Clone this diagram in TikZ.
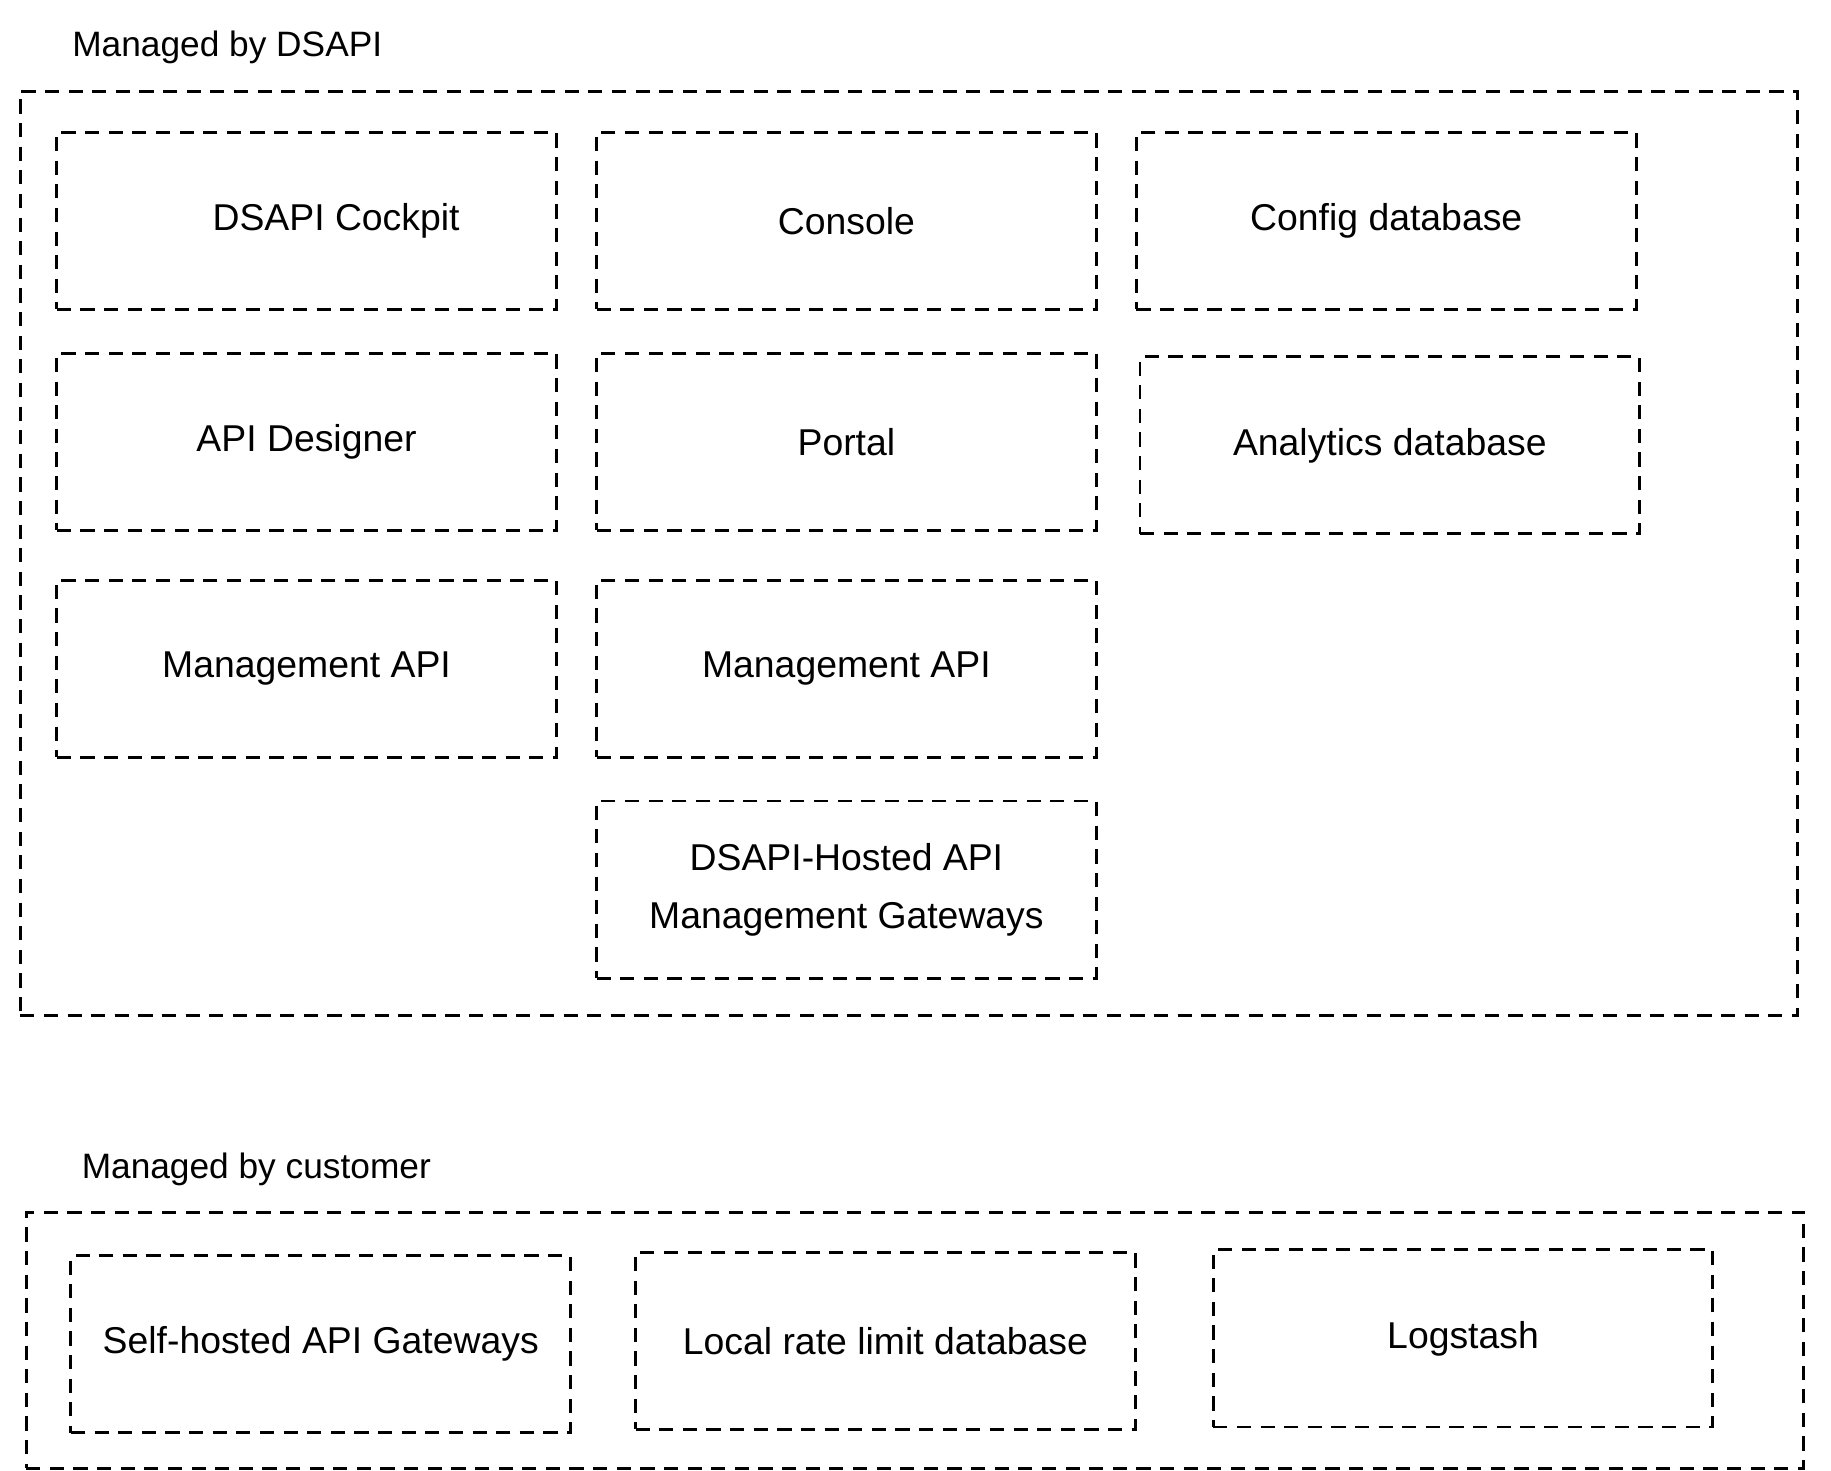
\documentclass[tikz,border=0pt]{standalone}
\usepackage{fontspec}
\setmainfont{Liberation Sans}
\begin{document}
\begin{tikzpicture}[x=0.02cm,y=-0.02cm,
		dbox/.style={draw, line width=1.4pt, dash pattern=on 0.24cm off 0.16cm,
			minimum width=8.46cm, minimum height=3cm, align=center, inner sep=0pt,
			font=\fontsize{18}{28}\selectfont},
		frame/.style={draw, line width=1.4pt, dash pattern=on 0.24cm off 0.16cm, inner sep=0pt},
		title/.style={anchor=west, font=\fontsize{17}{20}\selectfont}
	]
	
	\useasboundingbox (0,0) rectangle (1550,1245);
	
	% managed by DSAPI
	\node [title] (t1) at (55,40) {Managed by DSAPI};
	\node [frame, minimum width=30.1cm, minimum height=15.66cm] (dsapi) at (769.5,468.5) {};
	
	\node [dbox] (cockpit) at (259.5,187) {\hspace*{1cm}DSAPI Cockpit};
	\node [dbox] (console) at (716.5,187) {Console};
	\node [dbox] (config) at (1173.5,187) {Config database};
	
	\node [dbox] (designer) at (259.5,374) {API Designer};
	\node [dbox] (portal) at (716.5,374) {Portal};
	\node [dbox] (analytics) at (1176.5,377) {Analytics database};
	
	\node [dbox] (mgmtA) at (259.5,566) {Management API};
	\node [dbox] (mgmtB) at (716.5,566) {Management API};
	
	\node [dbox] (hosted) at (716.5,753) {DSAPI-Hosted API\\Management Gateways};
	
	% managed by customer
	\node [title] (t2) at (63,990) {Managed by customer};
	\node [frame, minimum width=30.1cm, minimum height=4.34cm] (customer) at (774.5,1134.5) {};
	
	\node [dbox] (selfhosted) at (271.5,1138) {Self-hosted API Gateways};
	\node [dbox] (ratelimit) at (749.5,1135) {Local rate limit database};
	\node [dbox] (logstash) at (1238.5,1133) {Logstash};
\end{tikzpicture}
\end{document}
